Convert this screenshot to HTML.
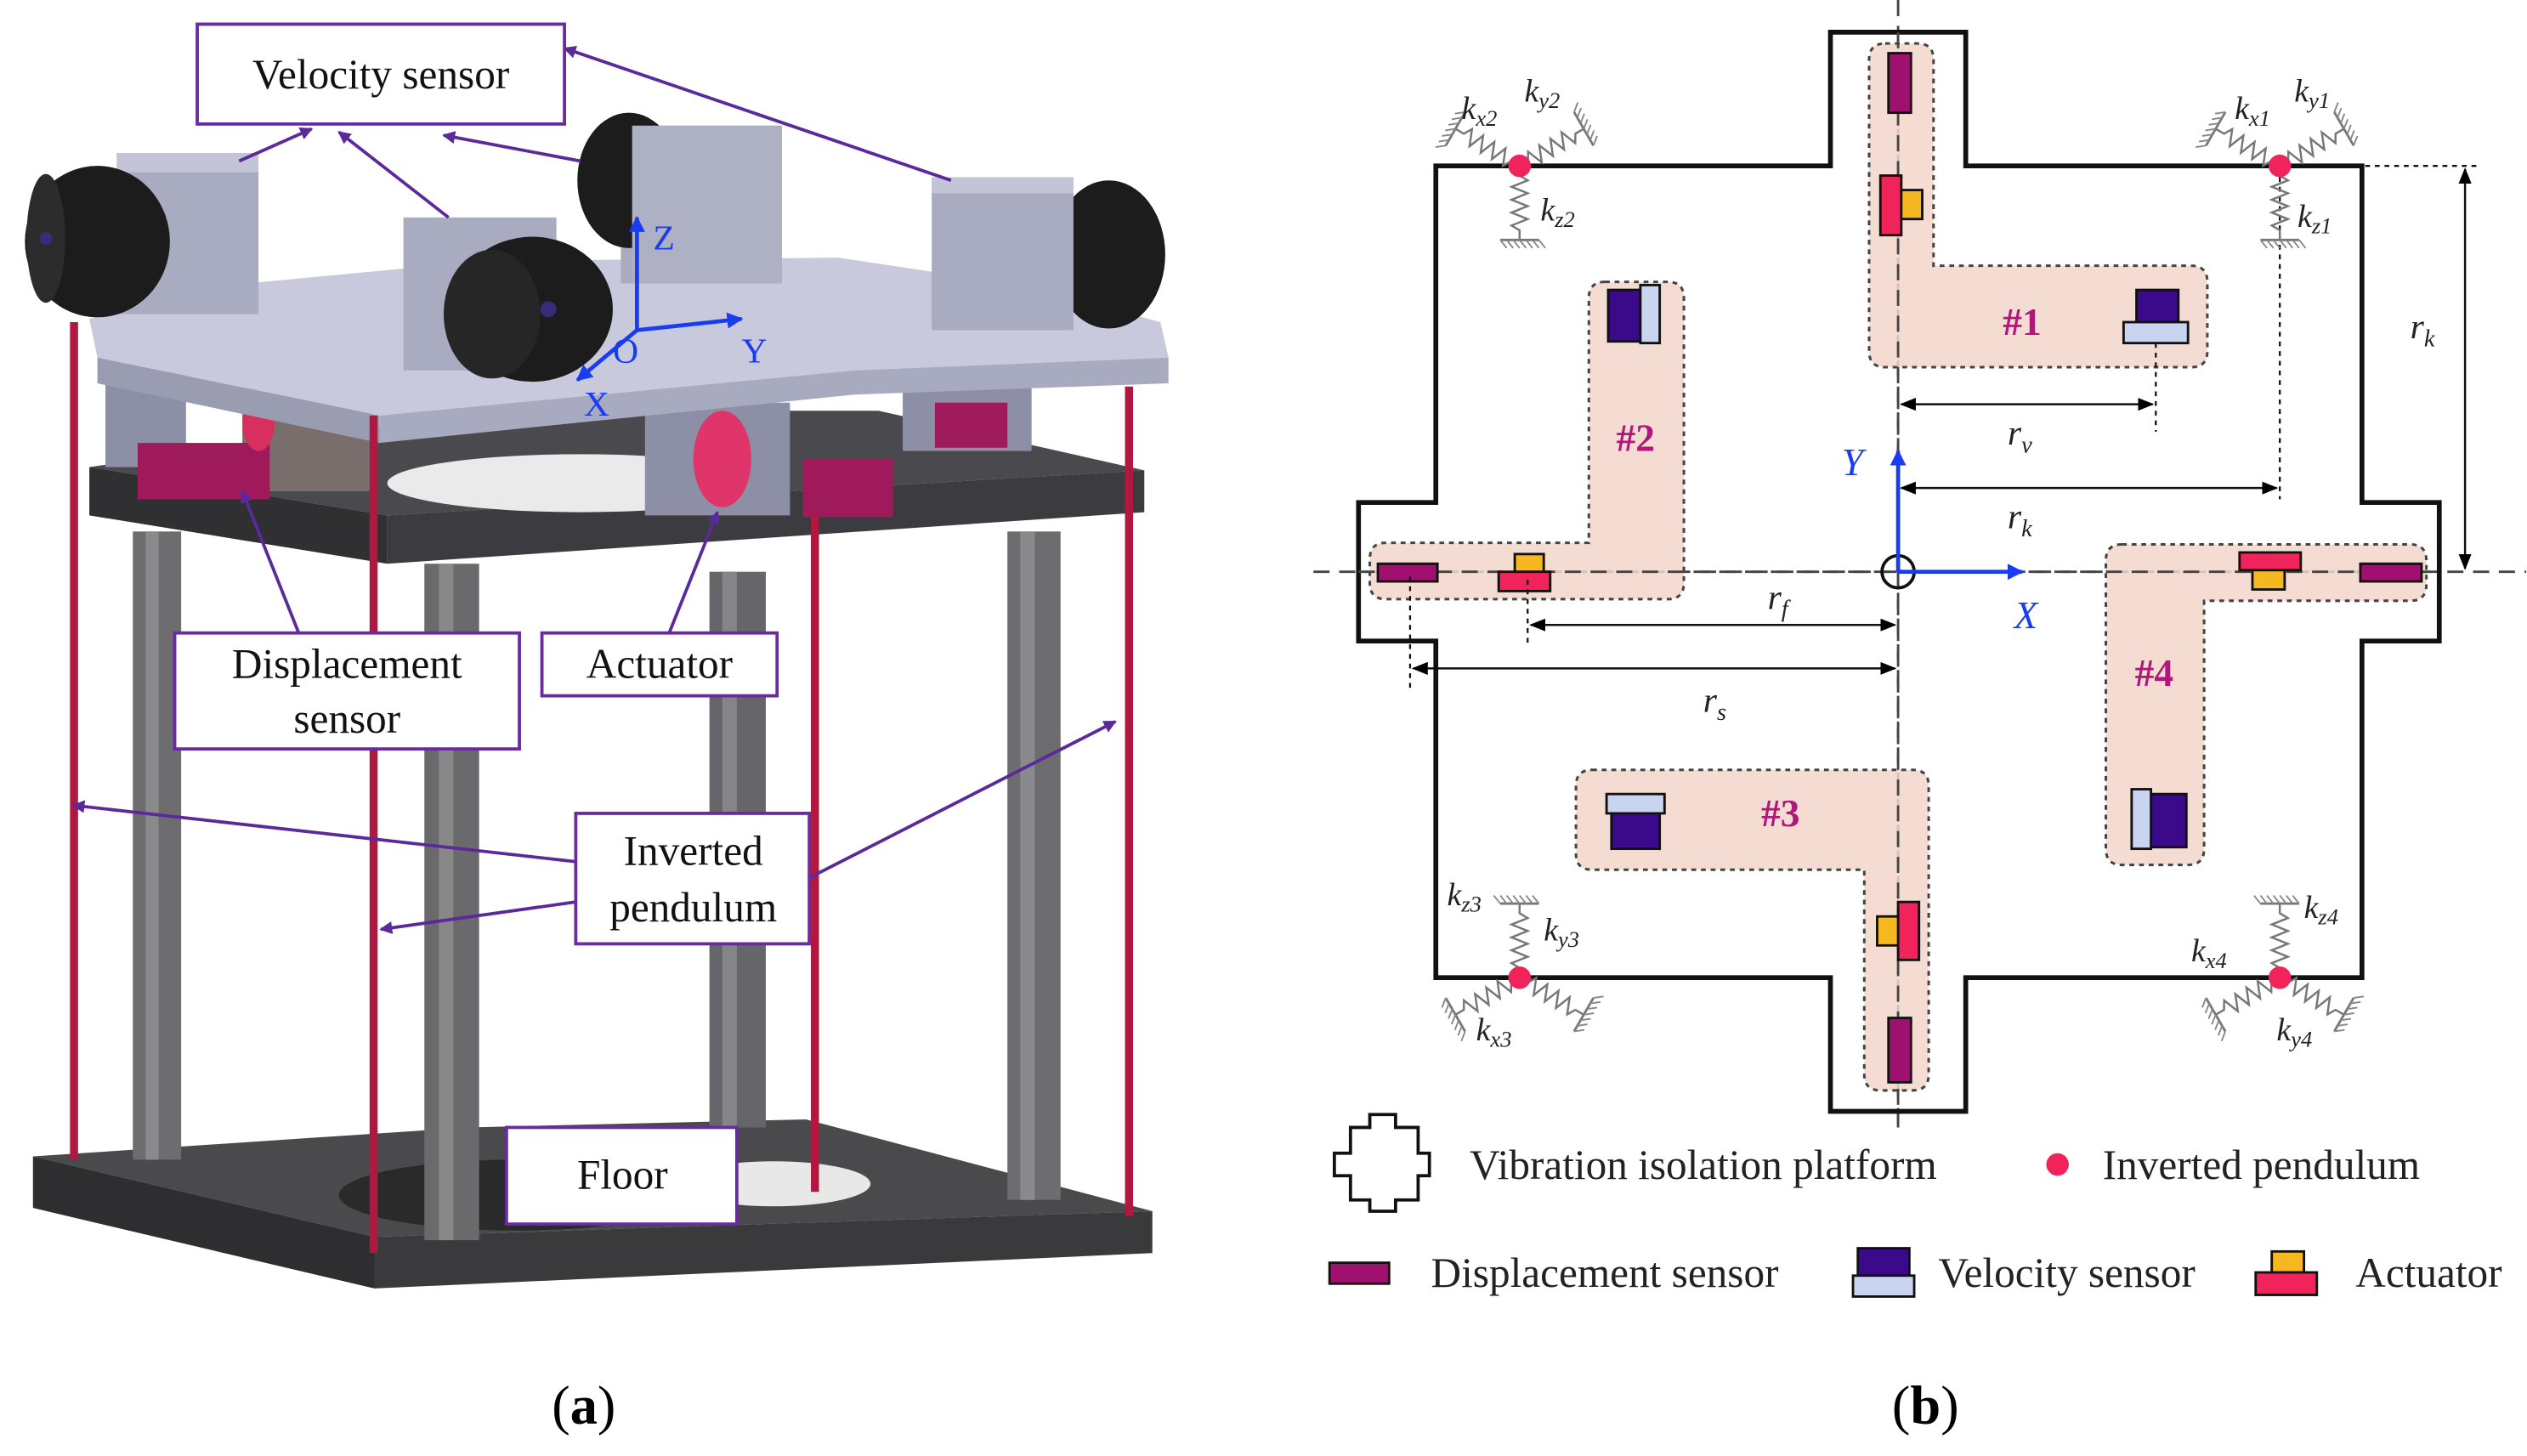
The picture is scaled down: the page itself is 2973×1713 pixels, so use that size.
<!DOCTYPE html>
<html><head><meta charset="utf-8"><style>
html,body{margin:0;padding:0;background:#fff;}
svg{display:block;}
text{font-family:"Liberation Serif",serif;}
</style></head><body>
<svg width="2973" height="1713" viewBox="0 0 1568 904" xmlns="http://www.w3.org/2000/svg">
<defs>
<marker id="pa" markerWidth="8" markerHeight="8" refX="7" refY="4" orient="auto" markerUnits="userSpaceOnUse"><path d="M0,0 L8,4 L0,8 Z" fill="#5b2a9a"/></marker>
<marker id="ba" markerWidth="10" markerHeight="10" refX="9" refY="5" orient="auto" markerUnits="userSpaceOnUse"><path d="M0,0 L10,5 L0,10 Z" fill="#1a3cf0"/></marker>
<marker id="ka" markerWidth="10" markerHeight="8" refX="9" refY="4" orient="auto-start-reverse" markerUnits="userSpaceOnUse"><path d="M0,0 L10,4 L0,8 Z" fill="#000"/></marker>
<g id="sp">
<polyline points="0,0 6,0 9,-5 13,5 17,-5 21,5 25,-5 29,5 33,-5 37,5 40,0 46,0" fill="none" stroke="#777" stroke-width="1.3"/>
<line x1="46" y1="-12" x2="46" y2="12" stroke="#777" stroke-width="1.5"/>
<path d="M46,-12 l5,-4 M46,-8 l5,-4 M46,-4 l5,-4 M46,0 l5,-4 M46,4 l5,-4 M46,8 l5,-4 M46,12 l5,-4" stroke="#888" stroke-width="1"/>
</g>
</defs>

<!-- ============ PANEL (a) ============ -->
<!-- floor -->
<polygon points="20,718 232,768 715,752 500,695 290,700" fill="#4a4a4c"/>
<polygon points="20,718 232,768 232,800 20,750" fill="#2e2e30"/>
<polygon points="232,768 715,752 715,778 232,800" fill="#3a3a3c"/>
<ellipse cx="320" cy="742" rx="110" ry="22" fill="#2a2a2a"/>
<ellipse cx="480" cy="735" rx="60" ry="14" fill="#e8e8e8"/>
<!-- columns -->
<rect x="82" y="330" width="30" height="390" fill="#6d6d70"/>
<rect x="263" y="350" width="34" height="420" fill="#6a6a6d"/>
<rect x="440" y="355" width="35" height="345" fill="#66666a"/>
<rect x="625" y="330" width="33" height="415" fill="#6d6d70"/>
<rect x="90" y="330" width="8" height="390" fill="#8a8a8d"/>
<rect x="272" y="350" width="9" height="420" fill="#888"/>
<rect x="448" y="355" width="9" height="345" fill="#858588"/>
<rect x="633" y="330" width="9" height="415" fill="#8a8a8d"/>
<!-- lower dark plate -->
<polygon points="55,290 240,320 710,292 545,255 300,255" fill="#4a4a4e"/>
<polygon points="55,290 240,320 240,350 55,320" fill="#303033"/>
<polygon points="240,320 710,292 710,318 240,350" fill="#3c3c40"/>
<ellipse cx="360" cy="300" rx="120" ry="18" fill="#eaeaea"/>
<!-- under-plate parts -->
<rect x="65" y="230" width="50" height="60" fill="#8d8fa6"/>
<rect x="150" y="235" width="80" height="70" fill="#7a6e6c"/>
<rect x="400" y="250" width="90" height="70" fill="#8d8fa6"/>
<ellipse cx="448" cy="285" rx="18" ry="30" fill="#e0356a"/>
<rect x="560" y="230" width="80" height="50" fill="#8d8fa6"/>
<rect x="85" y="275" width="82" height="35" fill="#9e1a5a"/>
<rect x="498" y="285" width="56" height="36" fill="#9e1a5a"/>
<rect x="580" y="250" width="45" height="28" fill="#9e1a5a"/>
<ellipse cx="160" cy="262" rx="10" ry="18" fill="#d8305e"/>
<!-- top light plate -->
<polygon points="55,198 60,222 235,258 530,230 725,222 720,200 640,178 520,160 300,162 110,180" fill="#c8c9dc"/>
<polygon points="60,222 235,258 235,275 60,238" fill="#9a9cb2"/>
<polygon points="235,258 530,230 725,222 725,238 530,245 235,275" fill="#a8aac0"/>
<!-- velocity sensor boxes + cylinders -->
<rect x="72" y="95" width="88" height="100" fill="#a9abc0"/>
<rect x="72" y="95" width="88" height="12" fill="#c3c5d6"/>
<ellipse cx="60" cy="150" rx="45" ry="47" fill="#1c1c1c"/>
<ellipse cx="28" cy="148" rx="12" ry="40" fill="#2c2c2c"/>
<circle cx="28" cy="148" r="4" fill="#3a2a7a"/>
<rect x="385" y="78" width="100" height="98" fill="#a9abc0"/>
<ellipse cx="390" cy="112" rx="32" ry="42" fill="#1c1c1c"/>
<rect x="392" y="78" width="93" height="98" fill="#aeb0c4"/>
<rect x="250" y="135" width="95" height="95" fill="#a9abc0"/>
<ellipse cx="330" cy="192" rx="50" ry="45" fill="#1c1c1c"/>
<ellipse cx="305" cy="195" rx="30" ry="40" fill="#262626"/>
<circle cx="340" cy="192" r="5" fill="#3a2a7a"/>
<ellipse cx="688" cy="158" rx="35" ry="46" fill="#1c1c1c"/>
<rect x="578" y="110" width="88" height="95" fill="#a9abc0"/>
<rect x="578" y="110" width="88" height="10" fill="#c3c5d6"/>
<!-- red rods -->
<rect x="43" y="200" width="5" height="520" fill="#b01840"/>
<rect x="229" y="258" width="5" height="520" fill="#b01840"/>
<rect x="503" y="320" width="5" height="420" fill="#b01840"/>
<rect x="698" y="240" width="5" height="515" fill="#b01840"/>
<!-- axes -->
<g stroke="#1a3cf0" stroke-width="2.5" fill="none">
<line x1="395" y1="205" x2="395" y2="135" marker-end="url(#ba)"/>
<line x1="395" y1="205" x2="460" y2="198" marker-end="url(#ba)"/>
<line x1="395" y1="205" x2="358" y2="236" marker-end="url(#ba)"/>
</g>
<g fill="#1a3cf0" font-size="22"><text x="405" y="155">Z</text><text x="380" y="225">O</text><text x="460" y="225">Y</text><text x="362" y="258">X</text></g>
<!-- purple leaders -->
<g stroke="#5b2a9a" stroke-width="2" fill="none" marker-end="url(#pa)">
<line x1="148" y1="100" x2="193" y2="80"/>
<line x1="278" y1="135" x2="210" y2="82"/>
<line x1="360" y1="100" x2="275" y2="84"/>
<line x1="590" y1="112" x2="350" y2="30"/>
<line x1="185" y1="393" x2="150" y2="305"/>
<line x1="415" y1="393" x2="445" y2="318"/>
<line x1="357" y1="535" x2="45" y2="500"/>
<line x1="357" y1="560" x2="236" y2="577"/>
<line x1="502" y1="545" x2="692" y2="448"/>
</g>
<!-- label boxes -->
<g fill="#fff" stroke="#6a2aa0" stroke-width="2">
<rect x="122" y="15" width="228" height="62"/>
<rect x="108" y="393" width="214" height="72"/>
<rect x="336" y="393" width="146" height="39"/>
<rect x="357" y="505" width="145" height="81"/>
<rect x="314" y="700" width="143" height="60"/>
</g>
<g font-size="26" fill="#111" text-anchor="middle">
<text x="236" y="55">Velocity sensor</text>
<text x="215" y="421">Displacement</text>
<text x="215" y="455">sensor</text>
<text x="409" y="421">Actuator</text>
<text x="430" y="537">Inverted</text>
<text x="430" y="572">pendulum</text>
<text x="386" y="738">Floor</text>
</g>
<text x="362" y="884" font-size="34" text-anchor="middle">(<tspan font-weight="bold">a</tspan>)</text>

<!-- ============ PANEL (b) ============ -->
<!-- axes dashed -->
<line x1="815" y1="355" x2="1568" y2="355" stroke="#444" stroke-width="1.5" stroke-dasharray="10,6"/>
<line x1="1178" y1="0" x2="1178" y2="700" stroke="#444" stroke-width="1.5" stroke-dasharray="10,6"/>
<!-- platform -->
<path d="M1136,20 H1220 V103 H1466 V312 H1514 V398 H1466 V607 H1220 V690 H1136 V607 H891 V398 H843 V312 H891 V103 H1136 Z" fill="none" stroke="#111" stroke-width="3"/>
<!-- groups -->
<g fill="#f3d6cb" fill-opacity="0.85" stroke="#444" stroke-width="1.6" stroke-dasharray="3,3">
<path d="M1170,27 H1190 Q1200,27 1200,37 V165 H1360 Q1370,165 1370,175 V218 Q1370,228 1360,228 H1170 Q1160,228 1160,218 V37 Q1160,27 1170,27 Z"/>
<path d="M996,175 H1035 Q1045,175 1045,185 V362 Q1045,372 1035,372 H860 Q850,372 850,362 V347 Q850,337 860,337 H986 V185 Q986,175 996,175 Z"/>
<path d="M988,478 H1187 Q1197,478 1197,488 V667 Q1197,677 1187,677 H1167 Q1157,677 1157,667 V540 H988 Q978,540 978,530 V488 Q978,478 988,478 Z"/>
<path d="M1317,338 H1496 Q1506,338 1506,348 V363 Q1506,373 1496,373 H1368 V527 Q1368,537 1358,537 H1317 Q1307,537 1307,527 V348 Q1307,338 1317,338 Z"/>
</g>
<line x1="1178" y1="20" x2="1178" y2="700" stroke="#444" stroke-width="1.5" stroke-dasharray="10,6"/>
<line x1="843" y1="355" x2="1514" y2="355" stroke="#444" stroke-width="1.5" stroke-dasharray="10,6"/>
<g font-size="24" font-weight="bold" fill="#b0177a" text-anchor="middle">
<text x="1255" y="208">#1</text><text x="1015" y="280">#2</text><text x="1105" y="513">#3</text><text x="1337" y="426">#4</text>
</g>
<!-- sensors -->
<g stroke="#111" stroke-width="1.5">
<rect x="1172" y="33" width="14" height="37" fill="#a0106e"/>
<rect x="1172" y="632" width="14" height="40" fill="#a0106e"/>
<rect x="855" y="350" width="37" height="11" fill="#a0106e"/>
<rect x="1465" y="350" width="38" height="11" fill="#a0106e"/>
<rect x="1167" y="109" width="13" height="37" fill="#f0245a"/><rect x="1180" y="118" width="13" height="18" fill="#f5b820"/>
<rect x="940" y="344" width="18" height="11" fill="#f5b820"/><rect x="930" y="355" width="32" height="12" fill="#f0245a"/>
<rect x="1390" y="343" width="38" height="11" fill="#f0245a"/><rect x="1398" y="354" width="20" height="12" fill="#f5b820"/>
<rect x="1178" y="560" width="13" height="36" fill="#f0245a"/><rect x="1165" y="569" width="13" height="18" fill="#f5b820"/>
<rect x="1326" y="180" width="26" height="20" fill="#3a0a8a"/><rect x="1318" y="200" width="40" height="13" fill="#c9d4f0"/>
<rect x="998" y="180" width="20" height="32" fill="#3a0a8a"/><rect x="1018" y="177" width="12" height="36" fill="#c9d4f0"/>
<rect x="997" y="493" width="36" height="12" fill="#c9d4f0"/><rect x="1000" y="505" width="30" height="22" fill="#3a0a8a"/>
<rect x="1335" y="493" width="22" height="33" fill="#3a0a8a"/><rect x="1323" y="490" width="12" height="37" fill="#c9d4f0"/>
</g>
<!-- coordinate -->
<circle cx="1178" cy="355" r="10" fill="none" stroke="#111" stroke-width="2"/>
<line x1="1178" y1="355" x2="1178" y2="280" stroke="#1a3cf0" stroke-width="2.5" marker-end="url(#ba)"/>
<line x1="1178" y1="355" x2="1255" y2="355" stroke="#1a3cf0" stroke-width="2.5" marker-end="url(#ba)"/>
<g fill="#1a3cf0" font-size="24" font-style="italic"><text x="1143" y="295">Y</text><text x="1250" y="390">X</text></g>
<!-- dimensions -->
<g stroke="#111" stroke-width="1.2" stroke-dasharray="3,3" fill="none">
<line x1="1338" y1="213" x2="1338" y2="268"/>
<line x1="1415" y1="110" x2="1415" y2="310"/>
<line x1="1420" y1="103" x2="1540" y2="103"/>
<line x1="948" y1="360" x2="948" y2="402"/>
<line x1="875" y1="358" x2="875" y2="428"/>
</g>
<g stroke="#111" stroke-width="1.3" fill="none">
<line x1="1180" y1="251" x2="1336" y2="251" marker-start="url(#ka)" marker-end="url(#ka)"/>
<line x1="1180" y1="303" x2="1413" y2="303" marker-start="url(#ka)" marker-end="url(#ka)"/>
<line x1="1530" y1="105" x2="1530" y2="353" marker-start="url(#ka)" marker-end="url(#ka)"/>
<line x1="950" y1="388" x2="1176" y2="388" marker-start="url(#ka)" marker-end="url(#ka)"/>
<line x1="877" y1="415" x2="1176" y2="415" marker-start="url(#ka)" marker-end="url(#ka)"/>
</g>
<g font-size="22" font-style="italic" fill="#222">
<text x="1246" y="276">r<tspan font-size="15" dy="5">v</tspan></text>
<text x="1246" y="328">r<tspan font-size="15" dy="5">k</tspan></text>
<text x="1496" y="210">r<tspan font-size="15" dy="5">k</tspan></text>
<text x="1097" y="378">r<tspan font-size="15" dy="5">f</tspan></text>
<text x="1057" y="442">r<tspan font-size="15" dy="5">s</tspan></text>
</g>
<!-- springs -->
<use href="#sp" transform="translate(943,103) rotate(-150)"/>
<use href="#sp" transform="translate(943,103) rotate(-30)"/>
<use href="#sp" transform="translate(943,103) rotate(90)"/>
<use href="#sp" transform="translate(1415,103) rotate(-150)"/>
<use href="#sp" transform="translate(1415,103) rotate(-30)"/>
<use href="#sp" transform="translate(1415,103) rotate(90)"/>
<use href="#sp" transform="translate(943,607) rotate(150)"/>
<use href="#sp" transform="translate(943,607) rotate(30)"/>
<use href="#sp" transform="translate(943,607) rotate(-90)"/>
<use href="#sp" transform="translate(1415,607) rotate(150)"/>
<use href="#sp" transform="translate(1415,607) rotate(30)"/>
<use href="#sp" transform="translate(1415,607) rotate(-90)"/>
<g fill="#f0245a"><circle cx="943" cy="103" r="7"/><circle cx="1415" cy="103" r="7"/><circle cx="943" cy="607" r="7"/><circle cx="1415" cy="607" r="7"/></g>
<g font-size="20" font-style="italic" fill="#222">
<text x="907" y="74">k<tspan font-size="14" dy="4">x2</tspan></text>
<text x="946" y="63">k<tspan font-size="14" dy="4">y2</tspan></text>
<text x="956" y="137">k<tspan font-size="14" dy="4">z2</tspan></text>
<text x="1387" y="74">k<tspan font-size="14" dy="4">x1</tspan></text>
<text x="1424" y="63">k<tspan font-size="14" dy="4">y1</tspan></text>
<text x="1426" y="141">k<tspan font-size="14" dy="4">z1</tspan></text>
<text x="898" y="562">k<tspan font-size="14" dy="4">z3</tspan></text>
<text x="958" y="584">k<tspan font-size="14" dy="4">y3</tspan></text>
<text x="916" y="646">k<tspan font-size="14" dy="4">x3</tspan></text>
<text x="1430" y="570">k<tspan font-size="14" dy="4">z4</tspan></text>
<text x="1360" y="597">k<tspan font-size="14" dy="4">x4</tspan></text>
<text x="1413" y="646">k<tspan font-size="14" dy="4">y4</tspan></text>
</g>
<!-- legend -->
<path d="M838,700 H850 V692 H866 V700 H880 V716 H887 V730 H880 V745 H866 V752 H850 V745 H838 V730 H828 V716 H838 Z" fill="none" stroke="#111" stroke-width="2"/>
<g font-size="26" fill="#222">
<text x="912" y="732">Vibration isolation platform</text>
<text x="1305" y="732">Inverted pendulum</text>
<text x="888" y="799">Displacement sensor</text>
<text x="1203" y="799">Velocity sensor</text>
<text x="1462" y="799">Actuator</text>
</g>
<circle cx="1277" cy="723" r="7" fill="#f0245a"/>
<g stroke="#111" stroke-width="1.5">
<rect x="825" y="784" width="37" height="13" fill="#a0106e"/>
<rect x="1153" y="775" width="32" height="17" fill="#3a0a8a"/><rect x="1150" y="792" width="38" height="13" fill="#c9d4f0"/>
<rect x="1410" y="777" width="20" height="13" fill="#f5b820"/><rect x="1400" y="790" width="38" height="14" fill="#f0245a"/>
</g>
<text x="1195" y="884" font-size="34" text-anchor="middle">(<tspan font-weight="bold">b</tspan>)</text>
</svg>
</body></html>
